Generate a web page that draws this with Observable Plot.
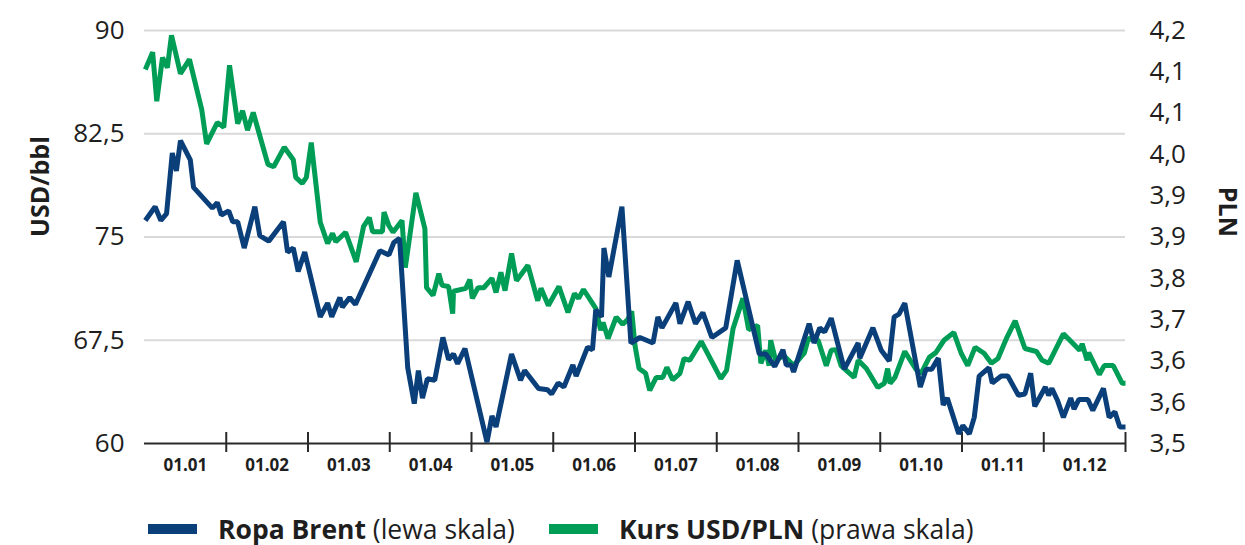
<!DOCTYPE html>
<html>
<head>
<meta charset="utf-8">
<script src="https://cdn.jsdelivr.net/npm/d3@7"></script>
<script src="https://cdn.jsdelivr.net/npm/@observablehq/plot@0.6"></script>
<style>
  html, body { margin: 0; padding: 0; background: #fff; }
  #wrap { position: relative; width: 1245px; height: 545px; font-family: "Open Sans", sans-serif; color: #1e1e1e; }
  #legend { position: absolute; left: 148px; top: 506px; height: 46px; line-height: 46px; display: flex; align-items: center; font-size: 26.5px; white-space: nowrap; }
  .sw { width: 49px; height: 10px; margin-right: 21px; flex: none; }
  .item { display: flex; align-items: center; margin-right: 34px; }
  .item b { font-weight: 700; }
</style>
</head>
<body>
<div id="wrap">
  <div id="chart"></div>
  <div id="legend"></div>
</div>
<script>
// ---- data (x = position in months from start of year) ----
const monthLabels = ["01.01","01.02","01.03","01.04","01.05","01.06","01.07","01.08","01.09","01.10","01.11","01.12"];
const leftTicks = [60, 67.5, 75, 82.5, 90];
const plnTicks = [3.5, 3.57, 3.64, 3.71, 3.78, 3.85, 3.92, 3.99, 4.06, 4.13, 4.2];

const brentT = [0.01,0.13,0.20,0.27,0.34,0.39,0.44,0.56,0.60,0.83,0.89,0.94,1.03,1.08,1.14,1.22,1.35,1.41,1.52,1.70,1.75,1.82,1.88,1.96,2.15,2.24,2.29,2.39,2.42,2.51,2.58,2.88,2.99,3.05,3.12,3.22,3.30,3.35,3.40,3.46,3.55,3.65,3.72,3.78,3.83,3.92,4.19,4.25,4.30,4.49,4.60,4.65,4.82,4.93,4.98,5.06,5.13,5.24,5.28,5.42,5.48,5.52,5.59,5.62,5.68,5.84,5.95,6.06,6.22,6.28,6.33,6.50,6.55,6.65,6.74,6.83,6.94,7.11,7.25,7.52,7.60,7.71,7.81,7.85,7.91,7.94,8.13,8.19,8.26,8.32,8.40,8.56,8.73,8.75,8.91,9.01,9.11,9.17,9.23,9.30,9.49,9.56,9.63,9.71,9.77,9.82,9.96,10.01,10.09,10.15,10.21,10.33,10.37,10.48,10.56,10.69,10.77,10.84,10.89,11.02,11.06,11.10,11.17,11.24,11.33,11.37,11.43,11.54,11.60,11.73,11.80,11.87,11.93,12.0];
const brentV = [76.2,77.2,76.2,76.7,81.1,79.8,82.0,80.6,78.6,77.1,77.5,76.6,76.9,76.1,76.1,74.2,77.2,75.1,74.7,76.1,73.9,74.2,72.5,73.9,69.2,70.2,69.2,70.6,69.9,70.6,70.1,74.0,73.7,74.6,74.9,65.5,62.9,65.3,63.3,64.7,64.6,67.7,66.1,66.5,65.8,66.9,60.1,62.0,61.2,66.5,64.6,65.3,64.0,63.9,63.6,64.4,64.1,65.7,64.9,67.0,66.8,69.7,69.2,74.2,72.1,77.2,67.3,67.7,67.3,69.2,68.4,70.2,68.7,70.3,68.7,69.5,67.7,68.4,73.3,66.5,66.5,65.6,66.8,65.7,65.7,65.2,68.7,67.3,68.4,68.1,69.1,65.4,67.3,66.2,68.4,66.8,66.0,69.2,69.4,70.2,64.1,65.4,65.4,66.2,62.8,63.3,60.7,61.3,60.7,61.9,64.9,65.5,64.4,64.9,64.9,63.5,63.6,65.1,62.7,64.1,63.5,64.0,63.1,61.9,63.3,62.5,63.2,63.2,62.4,64.0,61.9,62.3,61.2,61.2];

const plnT = [0.01,0.10,0.15,0.22,0.28,0.33,0.44,0.55,0.70,0.76,0.89,0.97,1.04,1.14,1.20,1.26,1.33,1.51,1.58,1.71,1.82,1.85,1.93,1.98,2.04,2.15,2.24,2.30,2.34,2.46,2.59,2.68,2.75,2.79,2.91,2.93,2.99,3.04,3.15,3.19,3.32,3.43,3.45,3.53,3.60,3.64,3.72,3.77,3.78,3.93,3.98,4.01,4.08,4.15,4.25,4.30,4.36,4.41,4.49,4.55,4.69,4.81,4.85,4.94,5.07,5.18,5.26,5.31,5.37,5.52,5.58,5.61,5.67,5.77,5.85,5.91,5.96,6.00,6.05,6.13,6.18,6.26,6.34,6.39,6.46,6.55,6.60,6.67,6.81,7.05,7.12,7.20,7.32,7.39,7.50,7.54,7.60,7.64,7.66,7.72,7.82,7.94,8.07,8.12,8.24,8.34,8.40,8.46,8.52,8.68,8.73,8.83,8.97,9.05,9.09,9.12,9.18,9.30,9.44,9.50,9.60,9.68,9.78,9.90,9.99,10.07,10.16,10.27,10.36,10.44,10.55,10.65,10.77,10.91,10.98,11.06,11.24,11.44,11.47,11.53,11.55,11.68,11.74,11.85,11.96,12.0];
const plnV = [4.134,4.163,4.080,4.154,4.137,4.192,4.127,4.151,4.066,4.008,4.044,4.036,4.141,4.042,4.064,4.031,4.061,3.973,3.969,4.002,3.981,3.951,3.941,3.951,4.010,3.875,3.839,3.856,3.842,3.858,3.808,3.868,3.883,3.859,3.859,3.892,3.869,3.858,3.878,3.798,3.925,3.864,3.764,3.751,3.788,3.768,3.766,3.720,3.758,3.763,3.778,3.746,3.764,3.764,3.780,3.756,3.790,3.759,3.822,3.776,3.802,3.742,3.763,3.734,3.766,3.722,3.754,3.746,3.761,3.729,3.692,3.705,3.678,3.714,3.702,3.710,3.724,3.666,3.627,3.619,3.590,3.612,3.612,3.629,3.608,3.619,3.644,3.641,3.673,3.610,3.624,3.695,3.746,3.693,3.700,3.636,3.658,3.632,3.675,3.641,3.649,3.632,3.653,3.678,3.675,3.632,3.658,3.659,3.632,3.612,3.641,3.627,3.595,3.602,3.627,3.602,3.612,3.656,3.625,3.619,3.646,3.654,3.675,3.688,3.653,3.632,3.663,3.653,3.636,3.644,3.680,3.708,3.661,3.656,3.641,3.636,3.686,3.658,3.669,3.641,3.654,3.617,3.632,3.632,3.602,3.602];

const series = [
  {name: "Ropa Brent", note: "(lewa skala)", color: "#0a3f7a"},
  {name: "Kurs USD/PLN", note: "(prawa skala)", color: "#009d57"}
];

// ---- dual axis mapping (right scale 3.5–4.2 onto left scale 60–90) ----
const leftDomain = [60, 90], rightDomain = [3.5, 4.2];
const toLeft = p => leftDomain[0] + (p - rightDomain[0]) * (leftDomain[1] - leftDomain[0]) / (rightDomain[1] - rightDomain[0]);
const plnPos = plnTicks.map(toLeft);
const plnLabel = new Map(plnTicks.map((p, i) => [plnPos[i], (Math.round(p * 10 + 1e-9) / 10).toFixed(1).replace(".", ",")]));

const brent = brentT.map((t, i) => ({t, v: brentV[i]}));
const pln = plnT.map((t, i) => ({t, v: toLeft(plnV[i])}));
const months = d3.range(1, monthLabels.length + 1);
const labelPos = monthLabels.map((_, i) => i + 0.5);

const chart = Plot.plot({
  width: 1245,
  height: 495,
  marginLeft: 144,
  marginRight: 120,
  marginTop: 30,
  marginBottom: 52,
  style: {fontFamily: "Open Sans, sans-serif", color: "#1e1e1e", background: "#fff", overflow: "visible"},
  x: {domain: [0, 12], label: null},
  y: {domain: leftDomain, label: null},
  marks: [
    Plot.ruleY(leftTicks.slice(1), {stroke: "#d9d9d9", strokeWidth: 2}),
    Plot.ruleY([leftDomain[0]], {stroke: "#2a2a2a", strokeWidth: 2}),
    Plot.ruleX(months, {x: d => d, y1: leftDomain[0], y2: leftDomain[0], insetTop: -11, insetBottom: -9, stroke: "#2a2a2a", strokeWidth: 2}),
    Plot.axisX(labelPos, {tickSize: 0, tickPadding: 15, tickFormat: d => monthLabels[Math.floor(d)], fontSize: 17, fontWeight: "bold", label: null}),
    Plot.axisY(leftTicks, {anchor: "left", tickSize: 0, tickPadding: 20, tickFormat: d => String(d).replace(".", ","), fontSize: 26, label: null}),
    Plot.axisY(plnPos, {anchor: "right", tickSize: 0, tickPadding: 24, tickFormat: d => plnLabel.get(d), fontSize: 26, label: null}),
    Plot.line(pln, {x: "t", y: "v", stroke: series[1].color, strokeWidth: 5, strokeLinejoin: "miter", strokeLinecap: "butt"}),
    Plot.line(brent, {x: "t", y: "v", stroke: series[0].color, strokeWidth: 5, strokeLinejoin: "miter", strokeLinecap: "butt"}),
    Plot.text(["USD/bbl"], {text: d => d, frameAnchor: "left", dx: -104, rotate: -90, fontSize: 25, fontWeight: "bold"}),
    Plot.text(["PLN"], {text: d => d, frameAnchor: "right", dx: 101, rotate: 90, fontSize: 25, fontWeight: "bold"})
  ]
});
document.getElementById("chart").appendChild(chart);

const legend = document.getElementById("legend");
series.forEach(s => {
  const item = document.createElement("div");
  item.className = "item";
  item.innerHTML = `<div class="sw" style="background:${s.color}"></div><span><b>${s.name}</b> ${s.note}</span>`;
  legend.appendChild(item);
});
</script>
</body>
</html>
